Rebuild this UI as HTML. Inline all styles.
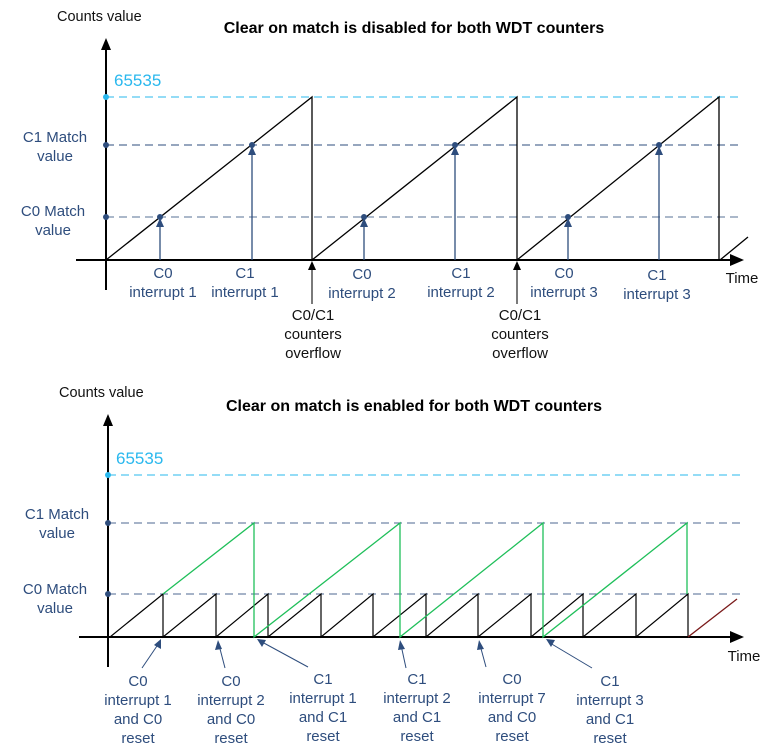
<!DOCTYPE html>
<html><head><meta charset="utf-8"><style>
html,body{margin:0;padding:0;background:#fff;}
svg{display:block;font-family:"Liberation Sans",Arial,sans-serif;}
.b{fill:#2e4d7d;font-size:15px;text-anchor:middle;}
.k{fill:#111;font-size:15px;text-anchor:middle;}
</style></head><body>
<svg width="772" height="749" viewBox="0 0 772 749" xmlns="http://www.w3.org/2000/svg">
<!-- TOP -->
<text x="57" y="21" font-size="14.5" fill="#111">Counts value</text>
<text x="414" y="33" font-size="16" font-weight="bold" text-anchor="middle" fill="#000">Clear on match is disabled for both WDT counters</text>
<line x1="106" y1="48" x2="106" y2="290" stroke="#000" stroke-width="2"/>
<path d="M101,50L106,38L111,50z"/>
<line x1="76" y1="260" x2="732" y2="260" stroke="#000" stroke-width="2"/>
<path d="M730,254L744,260L730,266z"/>
<line x1="106" y1="97" x2="738" y2="97" stroke="#2ab8ee" stroke-dasharray="8,5"/>
<line x1="106" y1="145" x2="738" y2="145" stroke="#2e4d7d" stroke-dasharray="8,5"/>
<line x1="106" y1="217" x2="738" y2="217" stroke="#2e4d7d" stroke-dasharray="8,5" opacity="0.8"/>
<circle cx="106" cy="97" r="3" fill="#2ab8ee"/>
<circle cx="106" cy="145" r="3" fill="#2e4d7d"/>
<circle cx="106" cy="217" r="3" fill="#2e4d7d"/>
<text x="114" y="86" font-size="17" fill="#2ab8ee">65535</text>
<text x="55" y="142" class="b">C1 Match</text><text x="55" y="161" class="b">value</text>
<text x="53" y="216" class="b">C0 Match</text><text x="53" y="235" class="b">value</text>
<path d="M106,260L312,97V260L517,97V260L719,97V260M720,260L748,237" fill="none" stroke="#000" stroke-width="1.3"/>
<g stroke="#2e4d7d" stroke-width="1.3" fill="#2e4d7d">
<line x1="160" y1="260" x2="160" y2="220"/><line x1="252" y1="260" x2="252" y2="148"/>
<line x1="364" y1="260" x2="364" y2="220"/><line x1="455" y1="260" x2="455" y2="148"/>
<line x1="568" y1="260" x2="568" y2="220"/><line x1="659" y1="260" x2="659" y2="148"/>
</g>
<g fill="#2e4d7d">
<circle cx="160" cy="217" r="3"/><path d="M156,227L160,218L164,227z"/>
<circle cx="252" cy="145" r="3"/><path d="M248,155L252,146L256,155z"/>
<circle cx="364" cy="217" r="3"/><path d="M360,227L364,218L368,227z"/>
<circle cx="455" cy="145" r="3"/><path d="M451,155L455,146L459,155z"/>
<circle cx="568" cy="217" r="3"/><path d="M564,227L568,218L572,227z"/>
<circle cx="659" cy="145" r="3"/><path d="M655,155L659,146L663,155z"/>
</g>
<line x1="312" y1="304" x2="312" y2="268" stroke="#333" stroke-width="1.3"/><path d="M308,270L312,261L316,270z"/>
<line x1="517" y1="304" x2="517" y2="268" stroke="#333" stroke-width="1.3"/><path d="M513,270L517,261L521,270z"/>
<text x="163" y="278" class="b">C0</text><text x="163" y="297" class="b">interrupt 1</text>
<text x="245" y="278" class="b">C1</text><text x="245" y="297" class="b">interrupt 1</text>
<text x="362" y="279" class="b">C0</text><text x="362" y="298" class="b">interrupt 2</text>
<text x="461" y="278" class="b">C1</text><text x="461" y="297" class="b">interrupt 2</text>
<text x="564" y="278" class="b">C0</text><text x="564" y="297" class="b">interrupt 3</text>
<text x="657" y="280" class="b">C1</text><text x="657" y="299" class="b">interrupt 3</text>
<text x="313" y="320" class="k">C0/C1</text><text x="313" y="339" class="k">counters</text><text x="313" y="358" class="k">overflow</text>
<text x="520" y="320" class="k">C0/C1</text><text x="520" y="339" class="k">counters</text><text x="520" y="358" class="k">overflow</text>
<text x="742" y="283" class="k">Time</text>
<!-- BOTTOM -->
<text x="59" y="397" font-size="14.5" fill="#111">Counts value</text>
<text x="414" y="411" font-size="16" font-weight="bold" text-anchor="middle" fill="#000">Clear on match is enabled for both WDT counters</text>
<line x1="108" y1="424" x2="108" y2="667" stroke="#000" stroke-width="2"/>
<path d="M103,426L108,414L113,426z"/>
<line x1="79" y1="637" x2="732" y2="637" stroke="#000" stroke-width="2"/>
<path d="M730,631L744,637L730,643z"/>
<line x1="108" y1="475" x2="745" y2="475" stroke="#2ab8ee" stroke-dasharray="8,5"/>
<line x1="108" y1="523" x2="745" y2="523" stroke="#2e4d7d" stroke-dasharray="8,5" opacity="0.85"/>
<line x1="108" y1="594" x2="745" y2="594" stroke="#2e4d7d" stroke-dasharray="8,5" opacity="0.85"/>
<circle cx="108" cy="475" r="3" fill="#2ab8ee"/>
<circle cx="108" cy="523" r="3" fill="#2e4d7d"/>
<circle cx="108" cy="594" r="3" fill="#2e4d7d"/>
<text x="116" y="464" font-size="17" fill="#2ab8ee">65535</text>
<text x="57" y="519" class="b">C1 Match</text><text x="57" y="538" class="b">value</text>
<text x="55" y="594" class="b">C0 Match</text><text x="55" y="613" class="b">value</text>
<path d="M110,637L163,594V637L216,594V637L268,594V637L321,594V637L373,594V637L426,594V637L478,594V637L531,594V637L583,594V637L636,594V637L688,594V637" fill="none" stroke="#000" stroke-width="1.2"/>
<line x1="688" y1="637" x2="737" y2="599" stroke="#7a1a1a" stroke-width="1.3"/>
<path d="M163,594L254,523V637L400,523V637L543,523V637L687,523V594" fill="none" stroke="#1fbf5a" stroke-width="1.3"/>
<g stroke="#2e4d7d" stroke-width="1"><line x1="142" y1="668" x2="159" y2="643"/><line x1="225" y1="668" x2="219" y2="645"/><line x1="308" y1="667" x2="262" y2="642"/><line x1="406" y1="668" x2="401" y2="645"/><line x1="486" y1="667" x2="480" y2="645"/><line x1="592" y1="668" x2="550" y2="643"/></g>
<g fill="#2e4d7d">
<path d="M161,639L161,649L154,645z"/><path d="M218,640L222,649L215,650z"/>
<path d="M257,639L266,640L262,647z"/><path d="M400,640L405,649L398,650z"/>
<path d="M479,640L484,649L477,650z"/><path d="M546,639L555,640L551,647z"/>
</g>
<g>
<text x="138" y="686" class="b">C0</text><text x="138" y="705" class="b">interrupt 1</text><text x="138" y="724" class="b">and C0</text><text x="138" y="743" class="b">reset</text>
<text x="231" y="686" class="b">C0</text><text x="231" y="705" class="b">interrupt 2</text><text x="231" y="724" class="b">and C0</text><text x="231" y="743" class="b">reset</text>
<text x="323" y="684" class="b">C1</text><text x="323" y="703" class="b">interrupt 1</text><text x="323" y="722" class="b">and C1</text><text x="323" y="741" class="b">reset</text>
<text x="417" y="684" class="b">C1</text><text x="417" y="703" class="b">interrupt 2</text><text x="417" y="722" class="b">and C1</text><text x="417" y="741" class="b">reset</text>
<text x="512" y="684" class="b">C0</text><text x="512" y="703" class="b">interrupt 7</text><text x="512" y="722" class="b">and C0</text><text x="512" y="741" class="b">reset</text>
<text x="610" y="686" class="b">C1</text><text x="610" y="705" class="b">interrupt 3</text><text x="610" y="724" class="b">and C1</text><text x="610" y="743" class="b">reset</text>
</g>
<text x="744" y="661" class="k">Time</text>
</svg>
</body></html>
